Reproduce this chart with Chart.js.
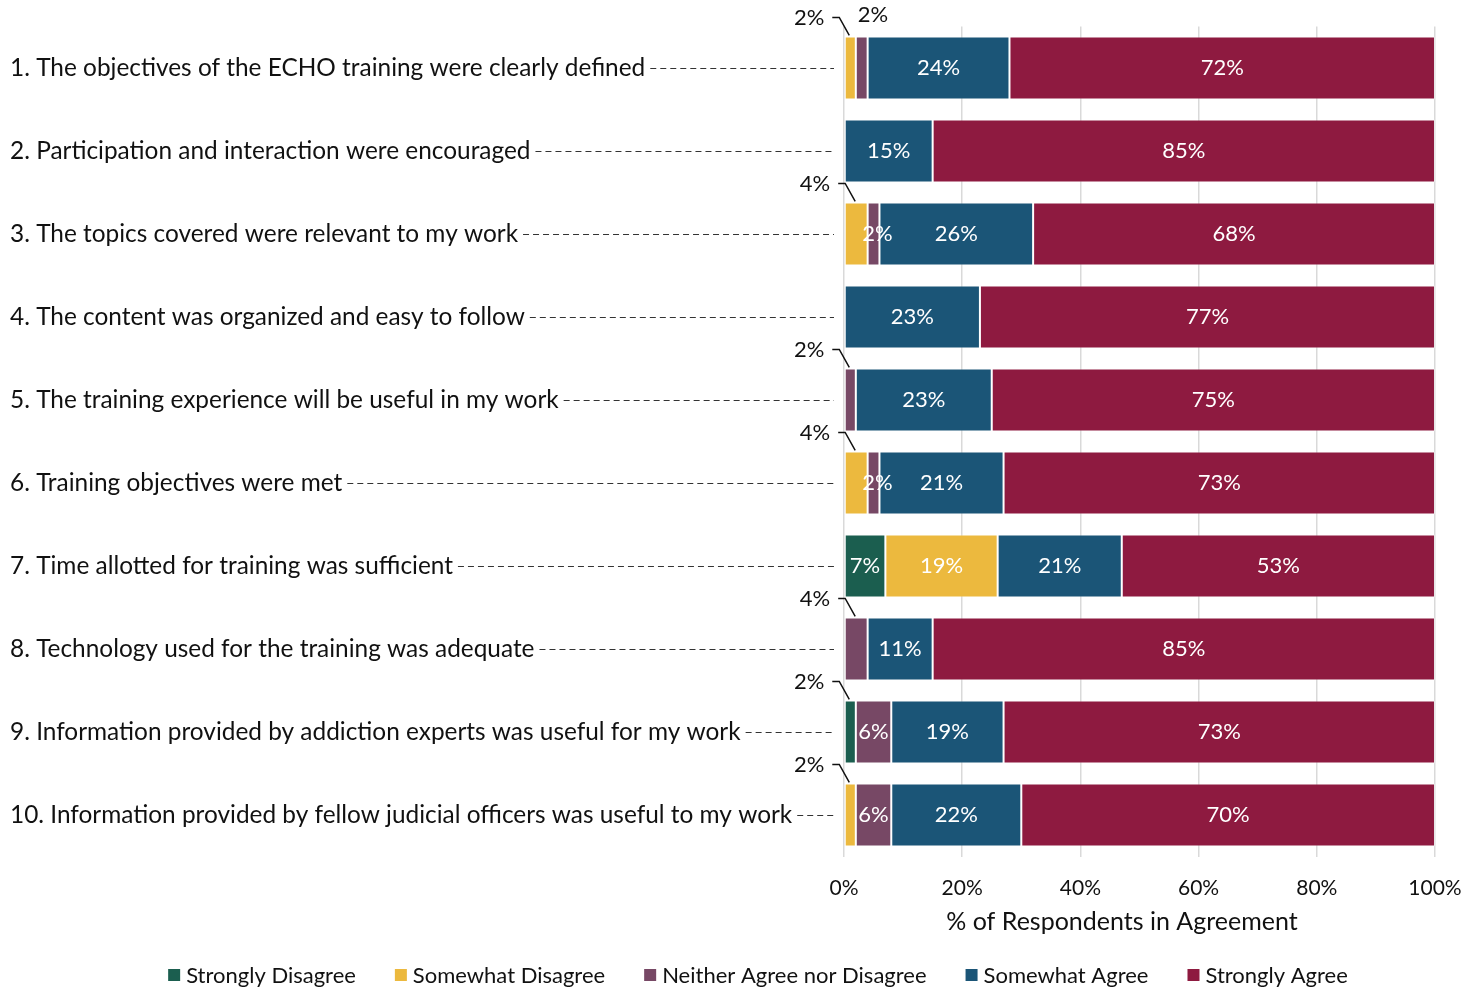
<!DOCTYPE html>
<html>
<head>
<meta charset="utf-8">
<script src="https://cdn.jsdelivr.net/npm/chart.js@4/dist/chart.umd.min.js"></script>
<style>
  html, body { margin: 0; padding: 0; background: #ffffff; }
  #wrap { width: 1481px; height: 989px; position: relative; }
</style>
</head>
<body>
<div id="wrap"><canvas id="chart" width="1481" height="989"></canvas></div>
<script>
// Survey statements (one bar each)
const categories = [
  '1. The objectives of the ECHO training were clearly defined',
  '2. Participation and interaction were encouraged',
  '3. The topics covered were relevant to my work',
  '4. The content was organized and easy to follow',
  '5. The training experience will be useful in my work',
  '6. Training objectives were met',
  '7. Time allotted for training was sufficient',
  '8. Technology used for the training was adequate',
  '9. Information provided by addiction experts was useful for my work',
  '10. Information provided by fellow judicial officers was useful to my work'
];

// Percent of respondents per response level
const stronglyDisagree = [0, 0, 0, 0, 0, 0, 7, 0, 2, 0];
const somewhatDisagree = [2, 0, 4, 0, 0, 4, 19, 0, 0, 2];
const neitherAgreeNor  = [2, 0, 2, 0, 2, 2, 0, 4, 6, 6];
const somewhatAgree    = [24, 15, 26, 23, 23, 21, 21, 11, 19, 22];
const stronglyAgree    = [72, 85, 68, 77, 75, 73, 53, 85, 73, 70];

const seriesNames = ['Strongly Disagree', 'Somewhat Disagree', 'Neither Agree nor Disagree', 'Somewhat Agree', 'Strongly Agree'];
const seriesColors = ['#1b5e4f', '#ecb93e', '#774865', '#1b5577', '#8e1a40'];

const xTicks = [0, 20, 40, 60, 80, 100];
const xAxisTitle = '% of Respondents in Agreement';

const FONT = 'Lato, "Open Sans", sans-serif';

// How narrow segments get their value label: outside with a callout line (default),
// above the bar without a line, or inside the segment.
const narrowLabelMode = { '2:0': 'above', '2:2': 'inside', '2:5': 'inside' };

const seriesData = [stronglyDisagree, somewhatDisagree, neitherAgreeNor, somewhatAgree, stronglyAgree];

const labelPlugin = {
  id: 'surveyLabels',
  afterDatasetsDraw(chart) {
    const ctx = chart.ctx;
    const yScale = chart.scales.y;
    const area = chart.chartArea;
    ctx.save();

    // statement labels with dashed leaders
    ctx.font = '24.4px ' + FONT;
    ctx.textBaseline = 'middle';
    ctx.textAlign = 'left';
    categories.forEach((c, i) => {
      const y = yScale.getPixelForValue(i);
      ctx.fillStyle = '#111111';
      ctx.fillText(c, 10, y);
      const w = ctx.measureText(c).width;
      ctx.beginPath();
      ctx.setLineDash([6, 4]);
      ctx.strokeStyle = '#333333';
      ctx.lineWidth = 1;
      ctx.moveTo(10 + w + 5, y + 0.5);
      ctx.lineTo(area.left - 10, y + 0.5);
      ctx.stroke();
      ctx.setLineDash([]);
    });

    // value labels
    ctx.font = '22px ' + FONT;
    chart.data.datasets.forEach((ds, di) => {
      const meta = chart.getDatasetMeta(di);
      meta.data.forEach((bar, i) => {
        const v = ds.data[i];
        if (!v) return;
        const cx = (bar.x + bar.base) / 2;
        const top = bar.y - bar.height / 2;
        const text = v + '%';
        let mode = v >= 5 ? 'center' : (narrowLabelMode[di + ':' + i] || 'callout');
        if (mode === 'center') {
          ctx.fillStyle = '#ffffff';
          ctx.textAlign = 'center';
          ctx.fillText(text, cx, bar.y);
        } else if (mode === 'inside') {
          ctx.fillStyle = '#ffffff';
          ctx.textAlign = 'center';
          ctx.fillText(text, cx + 4, bar.y);
        } else if (mode === 'above') {
          ctx.fillStyle = '#111111';
          ctx.textAlign = 'left';
          ctx.fillText(text, cx - 4, top - 22);
        } else {
          const ty = top - 19;
          ctx.fillStyle = '#111111';
          ctx.textAlign = 'right';
          ctx.fillText(text, cx - 26, ty);
          ctx.beginPath();
          ctx.strokeStyle = '#111111';
          ctx.lineWidth = 1.5;
          ctx.moveTo(cx - 18, ty);
          ctx.lineTo(cx - 11, ty);
          ctx.lineTo(cx - 1, top - 1);
          ctx.stroke();
        }
      });
    });

    // axis title
    ctx.font = '25px ' + FONT;
    ctx.fillStyle = '#111111';
    ctx.textAlign = 'center';
    ctx.fillText(xAxisTitle, 1122, 922);

    // legend
    ctx.font = '22px ' + FONT;
    ctx.textAlign = 'left';
    const box = 12, toText = 18, gap = 39;
    const widths = chart.data.datasets.map(d => ctx.measureText(d.label).width);
    const total = widths.reduce((a, b) => a + b, 0) + widths.length * toText + (widths.length - 1) * gap;
    let lx = 758 - total / 2;
    const ly = 975;
    chart.data.datasets.forEach((d, di) => {
      ctx.fillStyle = d.backgroundColor;
      ctx.fillRect(lx, ly - box / 2, box, box);
      ctx.fillStyle = '#111111';
      ctx.fillText(d.label, lx + toText, ly + 1);
      lx += toText + widths[di] + gap;
    });

    ctx.restore();
  }
};

new Chart(document.getElementById('chart'), {
  type: 'bar',
  data: {
    labels: categories,
    datasets: seriesNames.map((name, k) => ({
      label: name,
      data: seriesData[k],
      backgroundColor: seriesColors[k],
      borderColor: 'rgba(255,255,255,0.35)',
      borderWidth: 1,
      borderSkipped: false,
      barPercentage: 0.76,
      categoryPercentage: 1.0
    }))
  },
  options: {
    indexAxis: 'y',
    responsive: false,
    animation: false,
    devicePixelRatio: 1,
    layout: { padding: { left: 844, right: 46, top: 26.5, bottom: 0 } },
    plugins: { legend: { display: false }, tooltip: { enabled: false } },
    scales: {
      x: {
        stacked: true,
        min: 0,
        max: 100,
        afterBuildTicks(scale) { scale.ticks = xTicks.map(v => ({ value: v })); },
        afterFit(scale) { scale.height = 989 - 856.5; },
        grid: { color: '#d9d9d9', lineWidth: 1.5, drawTicks: false },
        border: { display: false },
        ticks: {
          padding: 19,
          color: '#111111',
          font: { family: FONT, size: 21 },
          callback: v => v + '%'
        }
      },
      y: {
        stacked: true,
        display: false
      }
    }
  },
  plugins: [labelPlugin]
});
</script>
</body>
</html>
